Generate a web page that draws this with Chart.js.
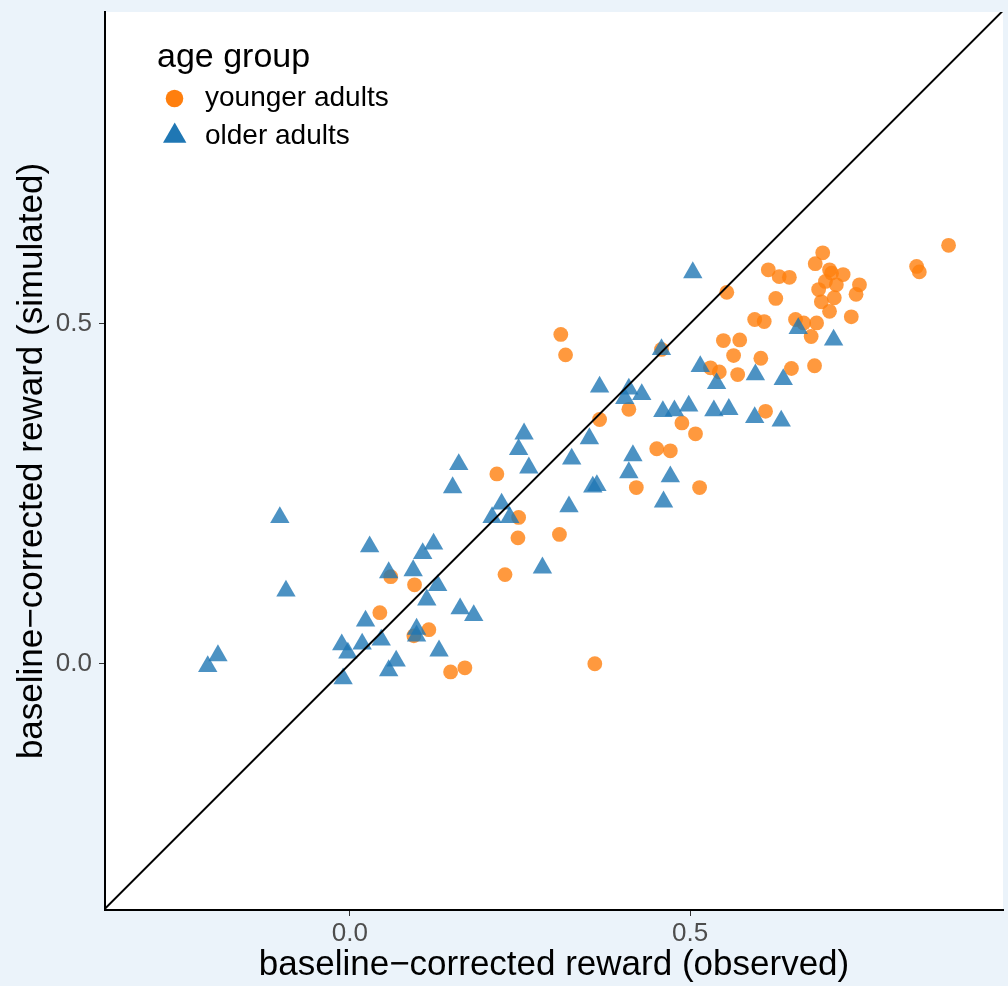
<!DOCTYPE html>
<html>
<head>
<meta charset="utf-8">
<title>observed vs simulated reward</title>
<script src="https://cdn.jsdelivr.net/npm/chart.js@4.4.1/dist/chart.umd.min.js"></script>
<style>
  html, body { margin: 0; padding: 0; background: #EBF3FA; }
  canvas { display: block; }
</style>
</head>
<body>
<canvas id="myChart" width="1008" height="986"></canvas>
<script>
'use strict';

// younger adults (orange circles)
const youngObserved = [0.880, 0.833, 0.837, 0.695, 0.684, 0.705, 0.708, 0.725, 0.699, 0.715,
    0.749, 0.744, 0.689, 0.693, 0.712, 0.705, 0.737, 0.615, 0.631, 0.646,
    0.626, 0.595, 0.609, 0.655, 0.667, 0.686, 0.678, 0.604, 0.649, 0.683,
    0.573, 0.549, 0.554, 0.564, 0.530, 0.543, 0.570, 0.458, 0.310, 0.317,
    0.410, 0.367, 0.488, 0.508, 0.451, 0.471, 0.421, 0.514, 0.611, 0.216,
    0.248, 0.247, 0.308, 0.228, 0.060, 0.095, 0.044, 0.116, 0.094, 0.148,
    0.169, 0.360];
const youngSimulated = [0.615, 0.584, 0.576, 0.604, 0.588, 0.579, 0.574, 0.572, 0.562, 0.557,
    0.557, 0.543, 0.550, 0.532, 0.538, 0.518, 0.510, 0.579, 0.569, 0.568,
    0.537, 0.506, 0.503, 0.506, 0.501, 0.501, 0.481, 0.449, 0.434, 0.438,
    0.476, 0.475, 0.546, 0.453, 0.435, 0.429, 0.425, 0.462, 0.484, 0.454,
    0.374, 0.359, 0.354, 0.338, 0.316, 0.313, 0.259, 0.259, 0.371, 0.279,
    0.215, 0.185, 0.190, 0.131, 0.128, 0.116, 0.075, 0.050, 0.041, -0.012,
    -0.006, 0.000];

// older adults (blue triangles)
const olderObserved = [0.504, 0.458, 0.659, 0.711, 0.367, 0.410, 0.404, 0.429, 0.515, 0.539,
    0.596, 0.637, 0.352, 0.460, 0.477, 0.498, 0.535, 0.557, 0.595, 0.634,
    0.416, 0.410, 0.471, 0.461, 0.322, 0.357, 0.363, 0.326, 0.256, 0.248,
    0.263, 0.160, 0.151, 0.223, 0.209, 0.235, 0.283, -0.103, -0.094, -0.194,
    -0.209, 0.029, 0.057, 0.093, 0.107, 0.123, 0.129, 0.113, 0.162, 0.182,
    0.023, -0.012, 0.018, 0.046, -0.003, 0.098, 0.098, 0.131, 0.068, 0.057,
    -0.010];
const olderSimulated = [0.575, 0.462, 0.493, 0.476, 0.407, 0.404, 0.390, 0.396, 0.437, 0.412,
    0.425, 0.418, 0.331, 0.371, 0.372, 0.379, 0.372, 0.374, 0.362, 0.357,
    0.306, 0.281, 0.275, 0.238, 0.231, 0.260, 0.262, 0.301, 0.338, 0.315,
    0.288, 0.293, 0.259, 0.235, 0.215, 0.215, 0.141, 0.215, 0.107, 0.012,
    -0.004, 0.172, 0.134, 0.137, 0.162, 0.176, 0.115, 0.094, 0.081, 0.071,
    0.063, 0.028, 0.029, 0.035, 0.016, 0.051, 0.041, 0.019, 0.004, -0.010,
    -0.022];

// identity line y = x
const diagonal = [-1, 1];

const tickValues = [0, 0.5];
const groupLabels = ['younger adults', 'older adults'];

const FONT = '"Liberation Sans", Arial, Helvetica, sans-serif';

const toPoints = (xs, ys) => xs.map((x, i) => ({ x: x, y: ys[i] }));

// background: light blue page, white panel
const panelBg = {
    id: 'panelBg',
    beforeDraw(chart) {
        const { ctx, chartArea } = chart;
        ctx.save();
        ctx.fillStyle = '#EBF3FA';
        ctx.fillRect(0, 0, chart.width, chart.height);
        ctx.fillStyle = '#FFFFFF';
        ctx.fillRect(chartArea.left, chartArea.top,
            chartArea.right - chartArea.left, chartArea.bottom - chartArea.top);
        ctx.restore();
    }
};

// legend drawn inside the panel, top left
const insideLegend = {
    id: 'insideLegend',
    afterDraw(chart) {
        const ctx = chart.ctx;
        ctx.save();
        ctx.fillStyle = '#000';
        ctx.textBaseline = 'alphabetic';
        ctx.textAlign = 'left';
        ctx.font = '34px ' + FONT;
        ctx.fillText('age group', 157, 67);

        ctx.font = '28px ' + FONT;
        // circle
        ctx.fillStyle = '#FF7F0E';
        ctx.beginPath();
        ctx.arc(174.5, 98.5, 8.8, 0, Math.PI * 2);
        ctx.fill();
        // triangle
        const r = 13.5, cx = 174.7, cy = 136;
        ctx.fillStyle = '#1F77B4';
        ctx.beginPath();
        for (let k = 0; k < 3; k++) {
            const a = k * 2 * Math.PI / 3;
            const px = cx + Math.sin(a) * r, py = cy - Math.cos(a) * r;
            if (k === 0) ctx.moveTo(px, py); else ctx.lineTo(px, py);
        }
        ctx.closePath();
        ctx.fill();

        ctx.fillStyle = '#000';
        ctx.fillText(groupLabels[0], 205, 106);
        ctx.fillText(groupLabels[1], 205, 144);
        ctx.restore();
    }
};

const ctx = document.getElementById('myChart');

new Chart(ctx, {
    type: 'scatter',
    data: {
        datasets: [{
            label: 'y = x',
            data: diagonal.map(v => ({ x: v, y: v })),
            showLine: true,
            borderColor: '#000',
            borderWidth: 2,
            pointRadius: 0,
            clip: 0,
            order: 0
        }, {
            label: groupLabels[1],
            data: toPoints(olderObserved, olderSimulated),
            pointStyle: 'triangle',
            pointRadius: 11.2,
            pointBorderWidth: 0,
            backgroundColor: 'rgba(31,119,180,0.8)',
            borderColor: 'rgba(31,119,180,0)',
            order: 1
        }, {
            label: groupLabels[0],
            data: toPoints(youngObserved, youngSimulated),
            pointStyle: 'circle',
            pointRadius: 7.4,
            pointBorderWidth: 0,
            backgroundColor: 'rgba(255,127,14,0.8)',
            borderColor: 'rgba(255,127,14,0)',
            order: 2
        }]
    },
    options: {
        responsive: false,
        animation: false,
        devicePixelRatio: 1,
        layout: {
            autoPadding: false,
            padding: { top: 12, right: 5, left: 0, bottom: 0 }
        },
        plugins: {
            legend: { display: false },
            tooltip: { enabled: false }
        },
        scales: {
            x: {
                type: 'linear',
                min: -0.360,
                max: 0.960,
                afterBuildTicks: s => { s.ticks = tickValues.map(v => ({ value: v })); },
                afterFit: s => {
                    s.height = 76;
                    s.paddingLeft = 0; s.paddingRight = 0;
                    s.paddingTop = 0; s.paddingBottom = 0;
                },
                ticks: {
                    callback: v => v.toFixed(1),
                    color: '#4D4D4D',
                    font: { family: FONT, size: 26 },
                    padding: 2,
                    maxRotation: 0
                },
                grid: {
                    drawOnChartArea: false,
                    drawTicks: true,
                    tickLength: 6,
                    color: '#333333',
                    lineWidth: 1
                },
                border: { display: true, color: '#000', width: 2 },
                title: {
                    display: true,
                    text: 'baseline\u2212corrected reward (observed)',
                    color: '#000',
                    font: { family: FONT, size: 35, lineHeight: 1.2 },
                    padding: { top: 0, bottom: 0 }
                }
            },
            y: {
                type: 'linear',
                min: -0.362,
                max: 0.958,
                afterBuildTicks: s => { s.ticks = tickValues.map(v => ({ value: v })); },
                afterFit: s => {
                    s.width = 105;
                    s.paddingLeft = 0; s.paddingRight = 0;
                    s.paddingTop = 0; s.paddingBottom = 0;
                },
                ticks: {
                    callback: v => v.toFixed(1),
                    color: '#4D4D4D',
                    font: { family: FONT, size: 26 },
                    padding: 7
                },
                grid: {
                    drawOnChartArea: false,
                    drawTicks: true,
                    tickLength: 6,
                    color: '#333333',
                    lineWidth: 1
                },
                border: { display: true, color: '#000', width: 2 },
                title: {
                    display: true,
                    text: 'baseline\u2212corrected reward (simulated)',
                    color: '#000',
                    font: { family: FONT, size: 35, lineHeight: 1.2 },
                    padding: { top: 11, bottom: 0 }
                }
            }
        }
    },
    plugins: [panelBg, insideLegend]
});
</script>
</body>
</html>
